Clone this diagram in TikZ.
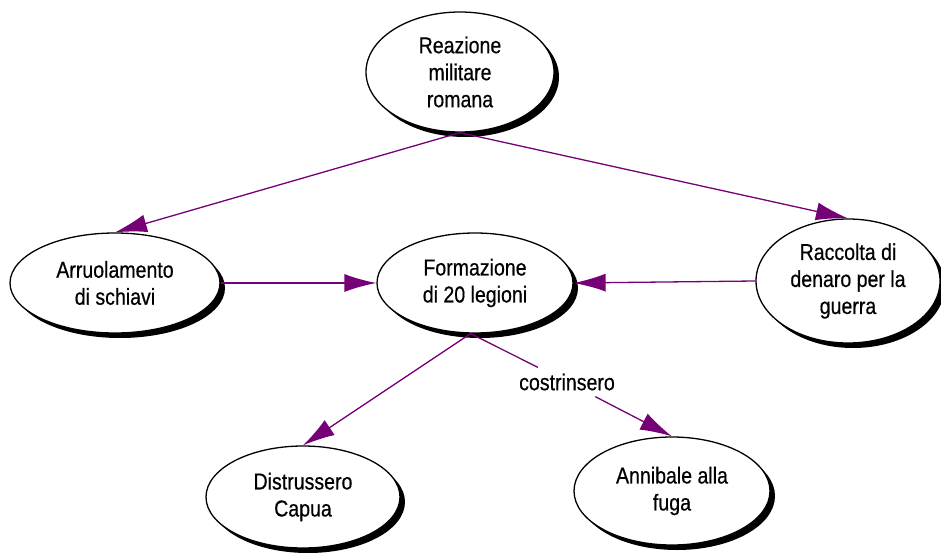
\documentclass[tikz,border=0pt]{standalone}
\usepackage{fontspec}
\setmainfont{Liberation Sans}[FakeStretch=0.85,FakeBold=0.5]
\usetikzlibrary{shapes.geometric}
\usetikzlibrary{shadows}
\usetikzlibrary{arrows.meta}
\definecolor{linkpurple}{RGB}{118,0,118}

\begin{document}
\begin{tikzpicture}[x=1pt,y=1pt]
		\tikzset{concept/.style={ellipse,draw=black,line width=1.3pt,fill=white,inner sep=0pt,align=center,
				font=\fontsize{23}{27}\selectfont,
				drop shadow={shadow xshift=5pt,shadow yshift=-5pt,fill=black,opacity=1}}};
		\tikzset{link/.style={draw=linkpurple,line width=1.3pt}};
		\useasboundingbox (0,0) rectangle (941,552);
		\node[concept,minimum width=188pt,minimum height=120pt] (reazione) at (460,480) {Reazione\\militare\\romana};
		\node[concept,minimum width=210pt,minimum height=100pt] (arruolamento) at (115,269) {Arruolamento\\di schiavi};
		\node[concept,minimum width=196pt,minimum height=100pt] (formazione) at (475,269) {Formazione\\di 20 legioni};
		\node[concept,minimum width=184pt,minimum height=124pt] (raccolta) at (848,271) {Raccolta di\\denaro per la\\guerra};
		\node[concept,minimum width=194pt,minimum height=102pt] (distrussero) at (303,55) {Distrussero\\Capua};
		\node[concept,minimum width=196pt,minimum height=108pt] (annibale) at (672,61) {Annibale alla\\fuga};
		
		\node[font=\fontsize{23}{27}\selectfont,inner sep=6pt] (costr) at (567,170) {costrinsero};
		
		\draw[link,-{Latex[length=32pt,width=18pt,fill=linkpurple]}] (reazione.south) -- (arruolamento.north);
		\draw[link,-{Latex[length=32pt,width=18pt,fill=linkpurple]}] (reazione.south) -- (raccolta.north);
		\draw[link,-{Latex[length=32pt,width=18pt,fill=linkpurple]}] (arruolamento.east) -- (formazione.west);
		\draw[link,-{Latex[length=32pt,width=18pt,fill=linkpurple]}] (raccolta.west) -- (formazione.east);
		\draw[link,-{Latex[length=32pt,width=18pt,fill=linkpurple]}] (formazione.-95) -- (distrussero.north);
		\draw[link] (formazione.-95) -- (costr);
		\draw[link,-{Latex[length=32pt,width=18pt,fill=linkpurple]}] (costr) -- (annibale.north);
	\end{tikzpicture}
\end{document}
